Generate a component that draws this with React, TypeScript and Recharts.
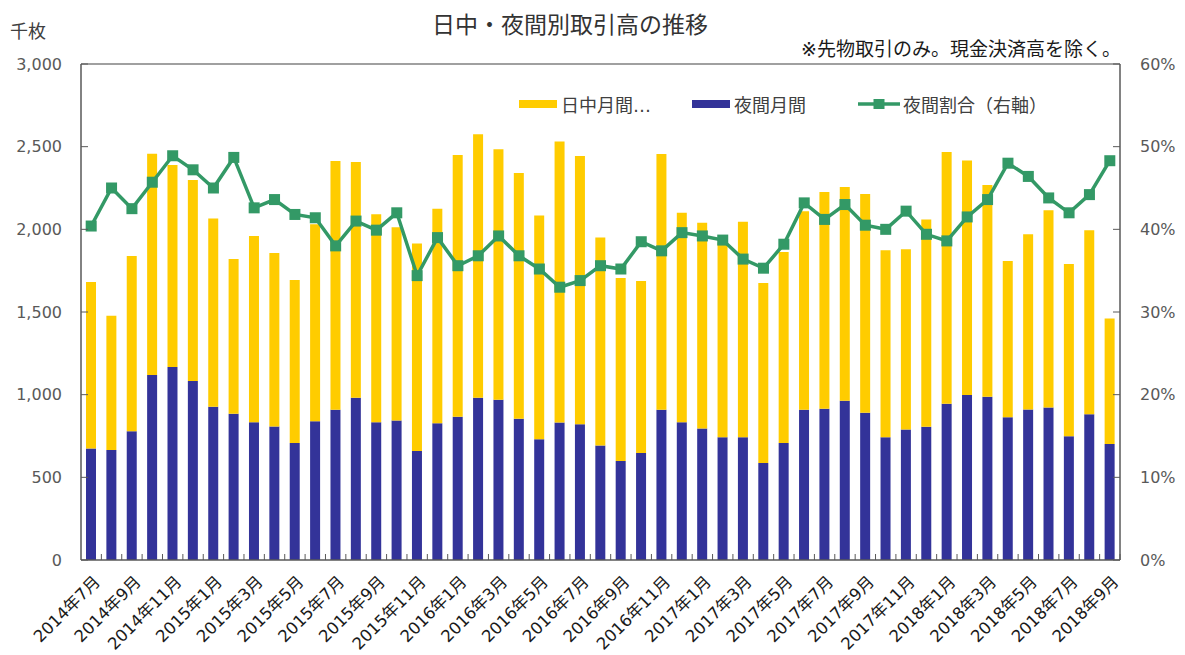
import React from "react";
import {
  ComposedChart,
  Bar,
  Line,
  XAxis,
  YAxis,
  ReferenceLine,
} from "recharts";

const months: string[] = [
  "2014年7月", "2014年8月", "2014年9月", "2014年10月", "2014年11月", "2014年12月",
  "2015年1月", "2015年2月", "2015年3月", "2015年4月", "2015年5月", "2015年6月",
  "2015年7月", "2015年8月", "2015年9月", "2015年10月", "2015年11月", "2015年12月",
  "2016年1月", "2016年2月", "2016年3月", "2016年4月", "2016年5月", "2016年6月",
  "2016年7月", "2016年8月", "2016年9月", "2016年10月", "2016年11月", "2016年12月",
  "2017年1月", "2017年2月", "2017年3月", "2017年4月", "2017年5月", "2017年6月",
  "2017年7月", "2017年8月", "2017年9月", "2017年10月", "2017年11月", "2017年12月",
  "2018年1月", "2018年2月", "2018年3月", "2018年4月", "2018年5月", "2018年6月",
  "2018年7月", "2018年8月", "2018年9月",
];

// 夜間月間 (千枚)
const nightVolume: number[] = [
  675, 665, 778, 1119, 1167, 1083, 927, 885, 833, 808, 708, 839,
  909, 982, 833, 843, 659, 827, 867, 982, 970, 855, 730, 831,
  821, 693, 599, 647, 909, 833, 796, 742, 742, 587, 708, 909,
  915, 963, 891, 742, 790, 806, 945, 998, 988, 863, 911, 923,
  748, 881, 702,
];

// 日中月間 (千枚)
const dayVolume: number[] = [
  1006, 813, 1061, 1338, 1222, 1215, 1139, 935, 1127, 1049, 985, 1191,
  1504, 1425, 1258, 1169, 1256, 1298, 1582, 1593, 1514, 1486, 1353, 1701,
  1622, 1258, 1107, 1040, 1546, 1268, 1244, 1178, 1304, 1088, 1155, 1201,
  1311, 1293, 1323, 1131, 1089, 1254, 1523, 1419, 1280, 945, 1059, 1192,
  1042, 1113, 758,
];

// 夜間割合 (%)
const nightRatio: number[] = [
  40.4, 45.0, 42.5, 45.7, 48.9, 47.2, 45.0, 48.7, 42.6, 43.6, 41.8, 41.4,
  38.0, 41.0, 39.9, 42.0, 34.4, 39.0, 35.6, 36.8, 39.2, 36.8, 35.2, 33.0,
  33.8, 35.6, 35.2, 38.5, 37.4, 39.6, 39.2, 38.7, 36.4, 35.3, 38.2, 43.2,
  41.2, 43.0, 40.5, 40.0, 42.2, 39.4, 38.6, 41.5, 43.6, 48.0, 46.4, 43.8,
  42.0, 44.2, 48.3,
];

const leftTicks: number[] = [0, 500, 1000, 1500, 2000, 2500, 3000];
const rightTicks: number[] = [0, 10, 20, 30, 40, 50, 60];

const data = months.map((m, i) => ({
  month: m,
  night: nightVolume[i],
  day: dayVolume[i],
  ratio: nightRatio[i],
}));

const W = 1185;
const H = 655;
const M_LEFT = 81;
const M_RIGHT = 65;
const M_TOP = 64;
const M_BOTTOM = 95;
const HALF_BAND = (W - M_LEFT - M_RIGHT) / months.length / 2;

const NAVY = "#333399";
const YELLOW = "#FFCC00";
const GREEN = "#339966";
const AXIS = "#595959";
const FONT = "'DejaVu Sans', 'Noto Sans CJK JP', sans-serif";

const XTick = (props: any) => {
  const { x, y, payload, index } = props;
  const ax = x + 6;
  const ay = y + 19;
  return (
    <g>
      <line x1={x + HALF_BAND} x2={x + HALF_BAND} y1={y} y2={y - 6} stroke={AXIS} strokeWidth={1} />
      {index % 2 === 0 && (
        <text
          x={ax}
          y={ay}
          transform={`rotate(-45, ${ax}, ${ay})`}
          textAnchor="end"
          dominantBaseline="central"
          fontSize={16.5}
          fontFamily={FONT}
          fill="#1a1a1a"
        >
          {payload.value}
        </text>
      )}
    </g>
  );
};

const LeftTick = (props: any) => {
  const { x, y, payload } = props;
  return (
    <g>
      <line x1={x + 19} x2={x + 26} y1={y} y2={y} stroke={AXIS} strokeWidth={1} />
      <text x={x} y={y} textAnchor="end" dominantBaseline="central" fontSize={16} fontFamily={FONT} fill={AXIS}>
        {Number(payload.value).toLocaleString("en-US")}
      </text>
    </g>
  );
};

const RightTick = (props: any) => {
  const { x, y, payload } = props;
  return (
    <g>
      <line x1={x - 20} x2={x - 27} y1={y} y2={y} stroke={AXIS} strokeWidth={1} />
      <text x={x} y={y} textAnchor="start" dominantBaseline="central" fontSize={16} fontFamily={FONT} fill={AXIS}>
        {`${payload.value}%`}
      </text>
    </g>
  );
};

const SquareDot = (props: any) => {
  const { cx, cy, index } = props;
  if (cx == null || cy == null) return null;
  return <rect key={`d${index}`} x={cx - 5.5} y={cy - 5.5} width={11} height={11} fill={GREEN} />;
};

const legendText: React.CSSProperties = {
  fontSize: 18,
  fontFamily: FONT,
  color: "#404040",
  whiteSpace: "nowrap",
};

const ChartLegend = () => (
  <div style={{ position: "absolute", left: 519, top: 91, display: "flex", alignItems: "center" }}>
    <div style={{ display: "flex", alignItems: "center", width: 173 }}>
      <div style={{ width: 38, height: 8, background: YELLOW, marginRight: 4 }} />
      <span style={legendText}>日中月間…</span>
    </div>
    <div style={{ display: "flex", alignItems: "center", width: 166 }}>
      <div style={{ width: 38, height: 8, background: NAVY, marginRight: 4 }} />
      <span style={legendText}>夜間月間</span>
    </div>
    <div style={{ display: "flex", alignItems: "center" }}>
      <svg width={42} height={12} style={{ marginRight: 3 }}>
        <line x1={0} x2={42} y1={6} y2={6} stroke={GREEN} strokeWidth={3.5} />
        <rect x={15.5} y={1} width={11} height={10} fill={GREEN} />
      </svg>
      <span style={legendText}>夜間割合（右軸）</span>
    </div>
  </div>
);

export default function App() {
  return (
    <div style={{ position: "absolute", left: 0, top: 0, width: W, height: H, background: "#fff" }}>
      <ComposedChart
        width={W}
        height={H}
        data={data}
        margin={{ top: M_TOP, right: 0, bottom: 0, left: 0 }}
        barSize={10}
      >
        <XAxis
          dataKey="month"
          interval={0}
          tickSize={0}
          tickMargin={0}
          height={M_BOTTOM}
          axisLine={{ stroke: AXIS, strokeWidth: 1.5 }}
          tickLine={false}
          tick={<XTick />}
        />
        <YAxis
          yAxisId="left"
          orientation="left"
          width={M_LEFT}
          domain={[0, 3000]}
          ticks={leftTicks}
          tickSize={0}
          tickMargin={19}
          axisLine={{ stroke: AXIS, strokeWidth: 1.5 }}
          tickLine={false}
          tick={<LeftTick />}
        />
        <YAxis
          yAxisId="right"
          orientation="right"
          width={M_RIGHT}
          domain={[0, 60]}
          ticks={rightTicks}
          tickSize={0}
          tickMargin={20}
          axisLine={{ stroke: AXIS, strokeWidth: 1.5 }}
          tickLine={false}
          tick={<RightTick />}
        />
        <ReferenceLine yAxisId="left" y={3000} stroke="#808080" strokeWidth={1.5} />
        <Bar yAxisId="left" dataKey="night" name="夜間月間" stackId="a" fill={NAVY} isAnimationActive={false} />
        <Bar yAxisId="left" dataKey="day" name="日中月間…" stackId="a" fill={YELLOW} isAnimationActive={false} />
        <Line
          yAxisId="right"
          dataKey="ratio"
          name="夜間割合（右軸）"
          stroke={GREEN}
          strokeWidth={3.5}
          dot={<SquareDot />}
          activeDot={false}
          isAnimationActive={false}
        />
      </ComposedChart>
      <div
        style={{
          position: "absolute",
          left: 0,
          width: W - 45,
          top: 6,
          textAlign: "center",
          fontSize: 23,
          fontFamily: FONT,
          color: "#333333",
          whiteSpace: "nowrap",
        }}
      >
        日中・夜間別取引高の推移
      </div>
      <div style={{ position: "absolute", left: 10, top: 17, fontSize: 18, fontFamily: FONT, color: "#404040" }}>
        千枚
      </div>
      <div
        style={{
          position: "absolute",
          right: 64,
          top: 34,
          fontSize: 19,
          fontFamily: FONT,
          color: "#1a1a1a",
          whiteSpace: "nowrap",
        }}
      >
        ※先物取引のみ。現金決済高を除く。
      </div>
      <ChartLegend />
    </div>
  );
}
